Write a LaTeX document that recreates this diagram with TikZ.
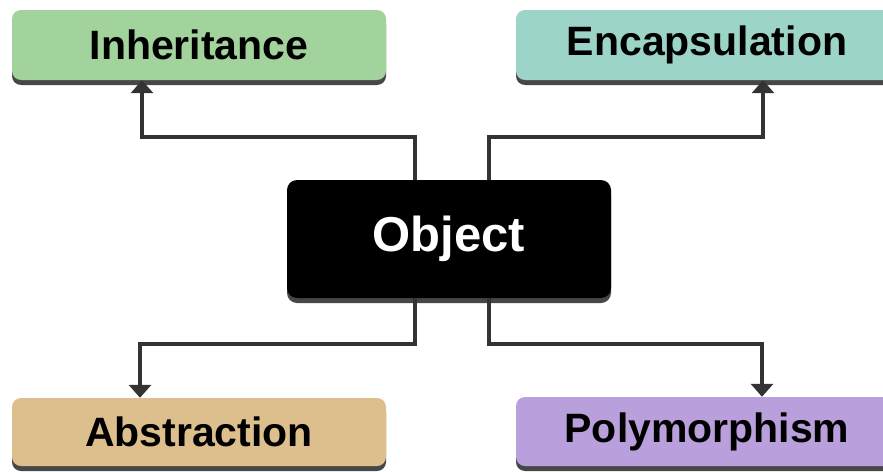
\documentclass[tikz,border=0pt]{standalone}
\usepackage{fontspec}
\setmainfont{Liberation Sans}
\usetikzlibrary{arrows.meta,shadows}
\definecolor{inhc}{HTML}{A2D39C}
\definecolor{encc}{HTML}{9DD4C8}
\definecolor{absc}{HTML}{DDBF8E}
\definecolor{polc}{HTML}{B9A0DC}
\definecolor{linec}{HTML}{333333}
\tikzset{
  box/.style={rounded corners=9pt, inner sep=0pt, draw=none,
    font=\bfseries\fontsize{41}{48}\selectfont, text=black,
    drop shadow={shadow xshift=0pt, shadow yshift=-5pt, fill=black!80, opacity=0.9}},
  conn/.style={draw=linec, line width=4pt, -{Triangle[width=22pt,length=13pt]}}
}
\begin{document}
\begin{tikzpicture}[x=1pt,y=-1pt]
\useasboundingbox (0,0) rectangle (883,471);
\node[box, fill=inhc, minimum width=374pt, minimum height=70pt] (inh) at (199,45) {Inheritance};
\node[box, fill=encc, minimum width=382pt, minimum height=70pt] (enc) at (707,45) {Encapsulation};
\node[box, fill=black, text=white, rounded corners=10pt, minimum width=324pt, minimum height=118pt,
  font=\bfseries\fontsize{49}{56}\selectfont] (obj) at (449,239) {Object};
\node[box, fill=absc, minimum width=374pt, minimum height=68pt] (abs) at (199,432) {Abstraction};
\node[box, fill=polc, minimum width=382pt, minimum height=69pt] (pol) at (707,431.5) {Polymorphism};
\draw[conn] ([xshift=-34pt]obj.north) |- ([xshift=-57pt,yshift=-57pt]inh.south) -- ([xshift=-57pt]inh.south);
\draw[conn] ([xshift=40pt]obj.north) |- ([xshift=56pt,yshift=-57pt]enc.south) -- ([xshift=56pt]enc.south);
\draw[conn] ([xshift=-34pt]obj.south) |- ([xshift=-59pt,yshift=54pt]abs.north) -- ([xshift=-59pt]abs.north);
\draw[conn] ([xshift=40pt]obj.south) |- ([xshift=55pt,yshift=53pt]pol.north) -- ([xshift=55pt]pol.north);
\end{tikzpicture}
\end{document}
